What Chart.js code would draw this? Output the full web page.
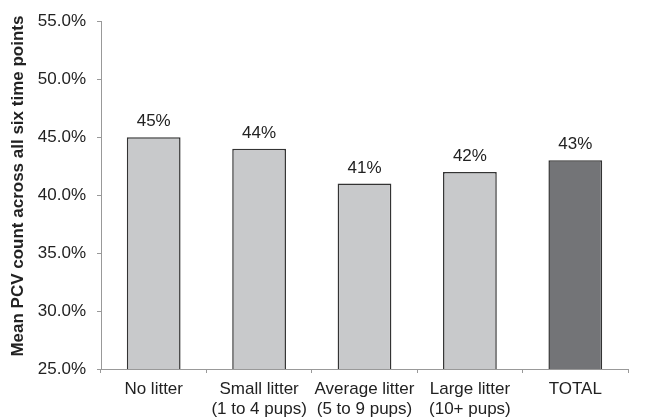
<!DOCTYPE html>
<html>
<head>
<meta charset="utf-8">
<script src="https://cdn.jsdelivr.net/npm/chart.js@4/dist/chart.umd.min.js"></script>
<style>
  html, body { margin: 0; padding: 0; background: #fff; }
  #wrap { width: 646px; height: 418px; }
</style>
</head>
<body>
<div id="wrap"><canvas id="c" width="646" height="418"></canvas></div>
<script>
// Litter-size groups and their mean PCV (%)
const categories = [
  'No litter',
  ['Small litter', '(1 to 4 pups)'],
  ['Average litter', '(5 to 9 pups)'],
  ['Large litter', '(10+ pups)'],
  'TOTAL'
];
const meanPcv = [45, 44, 41, 42, 43];
const barColors = ['#c8c9cb', '#c8c9cb', '#c8c9cb', '#c8c9cb', '#737477'];
const yAxisTitle = 'Mean PCV count across all six time points';

const FONT = "'Liberation Sans', Arial, Helvetica, sans-serif";

// Writes each bar's value just above it
const valueLabels = {
  id: 'valueLabels',
  afterDatasetsDraw(chart) {
    const ctx = chart.ctx;
    const meta = chart.getDatasetMeta(0);
    const data = chart.data.datasets[0].data;
    ctx.save();
    ctx.font = '17px ' + FONT;
    ctx.fillStyle = '#222';
    ctx.textAlign = 'center';
    ctx.textBaseline = 'alphabetic';
    meta.data.forEach((bar, i) => {
      ctx.fillText(Math.round(data[i]) + '%', bar.x, bar.y - 11);
    });
    ctx.restore();
  }
};

// Rotated y-axis title, sitting a little above the axis midpoint
const yTitle = {
  id: 'yTitle',
  afterDraw(chart) {
    const ctx = chart.ctx;
    const area = chart.chartArea;
    ctx.save();
    ctx.translate(18, (area.top + area.bottom) / 2 - 9);
    ctx.rotate(-Math.PI / 2);
    ctx.font = 'bold 17px ' + FONT;
    ctx.fillStyle = '#222';
    ctx.textAlign = 'center';
    ctx.textBaseline = 'middle';
    ctx.fillText(yAxisTitle, 0, 0);
    ctx.restore();
  }
};

new Chart(document.getElementById('c'), {
  type: 'bar',
  data: {
    labels: categories,
    datasets: [{
      data: meanPcv,
      backgroundColor: barColors,
      borderColor: '#333',
      borderWidth: 1.5,
      borderSkipped: false,
      categoryPercentage: 1.0,
      barPercentage: 0.51
    }]
  },
  options: {
    responsive: false,
    animation: false,
    events: [],
    layout: { padding: { left: 0, right: 18, top: 19, bottom: 0 } },
    plugins: {
      legend: { display: false },
      tooltip: { enabled: false }
    },
    scales: {
      x: {
        grid: { drawOnChartArea: false, drawTicks: true, tickLength: 4, color: '#999' },
        border: { color: '#999', width: 1 },
        ticks: {
          color: '#222',
          font: { family: FONT, size: 17, lineHeight: 1.2 },
          padding: 6,
          maxRotation: 0,
          autoSkip: false
        },
        afterFit(scale) { scale.height = 49; }
      },
      y: {
        min: 25,
        max: 55,
        ticks: {
          stepSize: 5,
          color: '#222',
          font: { family: FONT, size: 17 },
          padding: 11,
          callback: v => v.toFixed(1) + '%'
        },
        grid: { drawOnChartArea: false, drawTicks: true, tickLength: 4, color: '#999' },
        border: { color: '#999', width: 1 },
        afterFit(scale) { scale.width = 101; }
      }
    }
  },
  plugins: [valueLabels, yTitle]
});
</script>
</body>
</html>
